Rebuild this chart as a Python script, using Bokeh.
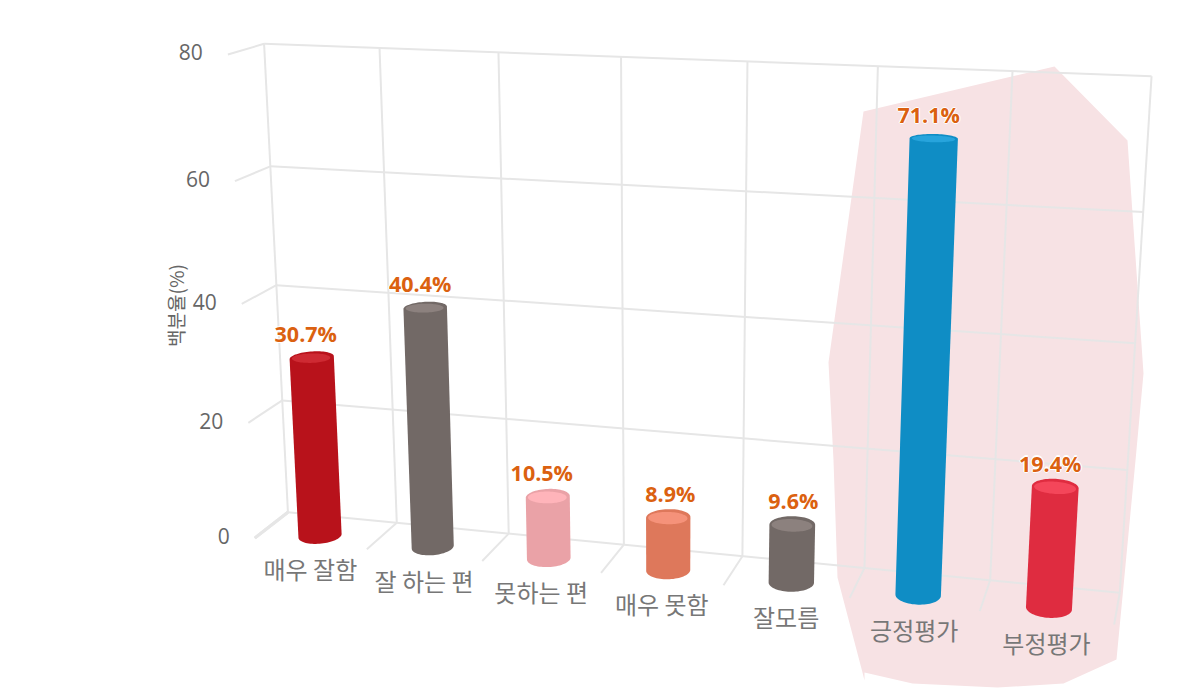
import numpy as np
from bokeh.plotting import figure
from bokeh.embed import file_html
from bokeh.resources import INLINE
from bokeh.core.properties import value

# ---- data
categories = ["매우 잘함", "잘 하는 편", "못하는 편", "매우 못함", "잘모름", "긍정평가", "부정평가"]
percent = [30.7, 40.4, 10.5, 8.9, 9.6, 71.1, 19.4]
y_ticks = [0, 20, 40, 60, 80]
y_title = "백분율(%)"

# ---- style
side_colors = ["#B8121B", "#726966", "#EAA2A7", "#DE785B", "#726966", "#0F8DC5", "#DF2C40"]
top_colors = ["#CE2A33", "#8C817E", "#FFB4BA", "#F5927A", "#8C817E", "#27A4DC", "#F4465A"]
bar_rx = [0.174, 0.168, 0.174, 0.174, 0.177, 0.174, 0.172]
label_dx = [-6, -5, -6, 2, 1, -5, -5]

# ---- camera of the 3D box, calibrated on grid corners: (category edge, value, depth) -> page pixel
back_top = [(265, 42), (379, 47), (499, 52), (620, 56), (745, 61), (877, 65), (1011, 71), (1150, 75)]
back_floor = [(287, 511), (396, 522), (508, 533), (623, 544), (742, 556), (863, 567), (991, 579), (1120, 592)]
front_floor = [(253, 538), (365, 548), (482, 561), (601, 572), (723, 585), (848, 597), (979, 611), (1115, 623)]
back_left = {60: (270, 167), 40: (276, 285), 20: (282, 401)}
back_right = {60: (1142, 213), 40: (1136, 344), 20: (1128, 470)}
front_left = {80: (228, 53), 60: (235, 182), 40: (242, 303), 20: (248, 423)}

world, pix = [], []
for i in range(8):
    world += [(i, 80, 1), (i, 0, 1), (i, 0, 0)]
    pix += [back_top[i], back_floor[i], front_floor[i]]
for v, q in back_left.items():
    world.append((0, v, 1)); pix.append(q)
for v, q in back_right.items():
    world.append((7, v, 1)); pix.append(q)
for v, q in front_left.items():
    world.append((0, v, 0)); pix.append(q)
W = np.array(world, float) / [7, 80, 1]
Q = np.array(pix, float) / [1200, 700]
rows = []
for (a, b, c), (u, w) in zip(W, Q):
    rows.append([a, b, c, 1, 0, 0, 0, 0, -u*a, -u*b, -u*c, -u])
    rows.append([0, 0, 0, 0, a, b, c, 1, -w*a, -w*b, -w*c, -w])
P = np.linalg.svd(np.array(rows))[2][-1].reshape(3, 4)


def proj(x, v, z):
    x, v, z = np.broadcast_arrays(np.asarray(x, float), np.asarray(v, float), np.asarray(z, float))
    h = np.stack([x / 7, v / 80, z, np.ones_like(x)], axis=-1) @ P.T
    return h[..., 0] / h[..., 2] * 1200, h[..., 1] / h[..., 2] * 700


def hull(pts):
    pts = sorted(set(map(tuple, pts)))
    def half(seq):
        out = []
        for q in seq:
            while len(out) > 1 and (out[-1][0]-out[-2][0])*(q[1]-out[-2][1]) - (out[-1][1]-out[-2][1])*(q[0]-out[-2][0]) <= 0:
                out.pop()
            out.append(q)
        return out[:-1]
    return half(pts) + half(pts[::-1])


p = figure(width=1192, height=692, x_range=(0, 1192), y_range=(692, 0), toolbar_location=None,
           output_backend="svg", min_border=0, x_axis_location=None, y_axis_location=None)
p.grid.visible = False
p.outline_line_color = None
p.background_fill_color = "white"

# highlight behind the last two bars
hl_x = [863, 1054, 1127, 1143, 1135, 1116, 1063, 997, 912, 864, 864, 862, 837, 833, 828]
hl_y = [111, 66, 140, 373, 460, 659, 683, 687, 683, 672, 680, 672, 577, 460, 362]
p.patch(hl_x, hl_y, fill_color="#F7E2E4", line_color=None)

# box grid
GRID = "#E6E6E6"
for i in range(8):
    xs, ys = proj([i, i, i], [80, 0, 0], [1, 1, 0])
    p.line(xs[:2], ys[:2], line_color=GRID, line_width=2)
    p.line(xs[1:], ys[1:], line_color=GRID, line_width=3 if i == 0 else 2)
for v in y_ticks:
    xs, ys = proj([7, 0, 0], [v, v, v], [1, 1, 0])
    p.line(xs[:2], ys[:2], line_color=GRID, line_width=2)
    p.line(xs[1:], ys[1:], line_color=GRID, line_width=3 if v == 0 else 2)

# tick labels
tx, ty = proj(np.zeros(5), y_ticks, np.zeros(5))
p.text(tx - 25, ty - 2, text=[str(t) for t in y_ticks], text_font=value("Open Sans"), text_font_size="21px",
       text_color="#666666", text_align="right", text_baseline="middle")
p.text([175], [305], text=[y_title], angle=np.pi / 2, text_font=value("Noto Sans CJK KR"), text_font_size="19px",
       text_color="#666666", text_align="center", text_baseline="middle")

# cylinders
theta = np.linspace(0, 2 * np.pi, 73)[:-1]
Z0, RZ = 0.3, 0.3
lx, ly = [], []
for i, val in enumerate(percent):
    cx = i + 0.5
    ring_x = cx + bar_rx[i] * np.cos(theta)
    ring_z = Z0 + RZ * np.sin(theta)
    bx, by = proj(ring_x, 0, ring_z)
    ax, ay = proj(ring_x, val, ring_z)
    h = hull(list(zip(bx, by)) + list(zip(ax, ay)))
    p.patch([q[0] for q in h], [q[1] for q in h], fill_color=side_colors[i], line_color=None)
    fx, fy = proj(cx + 0.9 * bar_rx[i] * np.cos(theta), val, Z0 - 0.02 + 0.72 * RZ * np.sin(theta))
    p.patch(fx, fy, fill_color=top_colors[i], line_color=None)
    tx0, ty0 = proj(cx, val, Z0)
    lx.append(float(tx0) + label_dx[i])
    ly.append(float(ty0) - 24)

# value labels: white halo below, orange text on top
labels = [f"{v}%" for v in percent]
la, lb = np.array(lx), np.array(ly)
for dx, dy in [(-1.2, 0), (1.2, 0), (0, -1.2), (0, 1.2)]:
    p.text(la + dx, lb + dy, text=labels, text_font=value("Open Sans"), text_font_size="21.5px", text_font_style="bold",
           text_color="white", text_align="center", text_baseline="middle")
p.text(lx, ly, text=labels, text_font=value("Open Sans"), text_font_size="21.5px", text_font_style="bold",
       text_color="#DB6110", text_align="center", text_baseline="middle")

# category labels
cx, cy = proj(np.arange(7) + 0.5, np.zeros(7), np.zeros(7))
p.text(cx, cy + 25, text=categories, text_font=value("Noto Sans CJK KR"), text_font_size="24px",
       text_color="#777777", text_align="center", text_baseline="middle")

open("out.html", "w").write(file_html(p, INLINE))
